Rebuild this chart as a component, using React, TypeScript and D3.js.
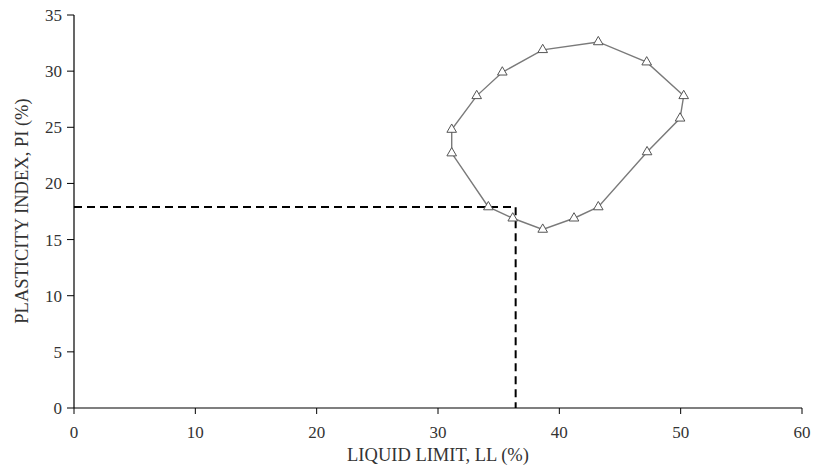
import React from "react";
import * as d3 from "d3";

const LL: number[] = [34.15, 31.13, 31.13, 33.19, 35.3, 38.63, 43.21, 47.2, 50.25, 49.95, 47.23, 43.21, 41.21, 38.63, 36.16];
const PI: number[] = [17.9, 22.7, 24.8, 27.8, 29.9, 31.9, 32.6, 30.8, 27.8, 25.8, 22.8, 17.9, 16.9, 15.9, 16.9];
const xTicks: number[] = [0, 10, 20, 30, 40, 50, 60];
const yTicks: number[] = [0, 5, 10, 15, 20, 25, 30, 35];
const guideLL = 36.4;
const guidePI = 17.9;

const W = 816;
const H = 470;
const M = { left: 74, right: 14, top: 15, bottom: 62 };
const FONT = "'Liberation Serif', 'Times New Roman', serif";

export default function App() {
  const x = d3.scaleLinear().domain([0, 60]).range([M.left, W - M.right]);
  const y = d3.scaleLinear().domain([0, 35]).range([H - M.bottom, M.top]);
  const pts: [number, number][] = LL.map((v, i) => [v, PI[i]]);
  const line = d3
    .line<[number, number]>()
    .x((d) => x(d[0]))
    .y((d) => y(d[1]))
    .curve(d3.curveLinearClosed);
  const tri = d3.symbol().type(d3.symbolTriangle).size(40)() as string;
  const x0 = x(0);
  const y0 = y(0);
  return (
    <svg
      width={W}
      height={H}
      style={{ position: "absolute", left: 0, top: 0, background: "#fff" }}
      fontFamily={FONT}
    >
      <path
        d={`M${x0},${y(guidePI)}H${x(guideLL)}V${y0}`}
        fill="none"
        stroke="#000"
        strokeWidth={2}
        strokeDasharray="8,5"
      />
      <path d={line(pts) as string} fill="none" stroke="#7a7a7a" strokeWidth={1.4} />
      {pts.map((p, i) => (
        <path
          key={i}
          d={tri}
          transform={`translate(${x(p[0])},${y(p[1])})`}
          fill="#fff"
          stroke="#555"
          strokeWidth={1}
        />
      ))}
      <line x1={x0} x2={x(60)} y1={y0} y2={y0} stroke="#000" strokeWidth={1.2} />
      <line x1={x0} x2={x0} y1={y0} y2={y(35)} stroke="#000" strokeWidth={1.2} />
      {xTicks.map((t) => (
        <g key={"x" + t}>
          <line x1={x(t)} x2={x(t)} y1={y0} y2={y0 + 6} stroke="#000" strokeWidth={1} />
          <text x={x(t)} y={y0 + 30} textAnchor="middle" fontSize={17} fill="#333">
            {t}
          </text>
        </g>
      ))}
      {yTicks.map((t) => (
        <g key={"y" + t}>
          <line x1={x0 - 7} x2={x0} y1={y(t)} y2={y(t)} stroke="#000" strokeWidth={1} />
          <text x={x0 - 12} y={y(t) + 6} textAnchor="end" fontSize={17} fill="#333">
            {t}
          </text>
        </g>
      ))}
      <text x={(x0 + x(60)) / 2} y={461} textAnchor="middle" fontSize={18.5} fill="#333">
        LIQUID LIMIT, LL (%)
      </text>
      <text
        transform={`translate(28,211) rotate(-90)`}
        textAnchor="middle"
        fontSize={18.5}
        fill="#333"
      >
        PLASTICITY INDEX, PI (%)
      </text>
    </svg>
  );
}
